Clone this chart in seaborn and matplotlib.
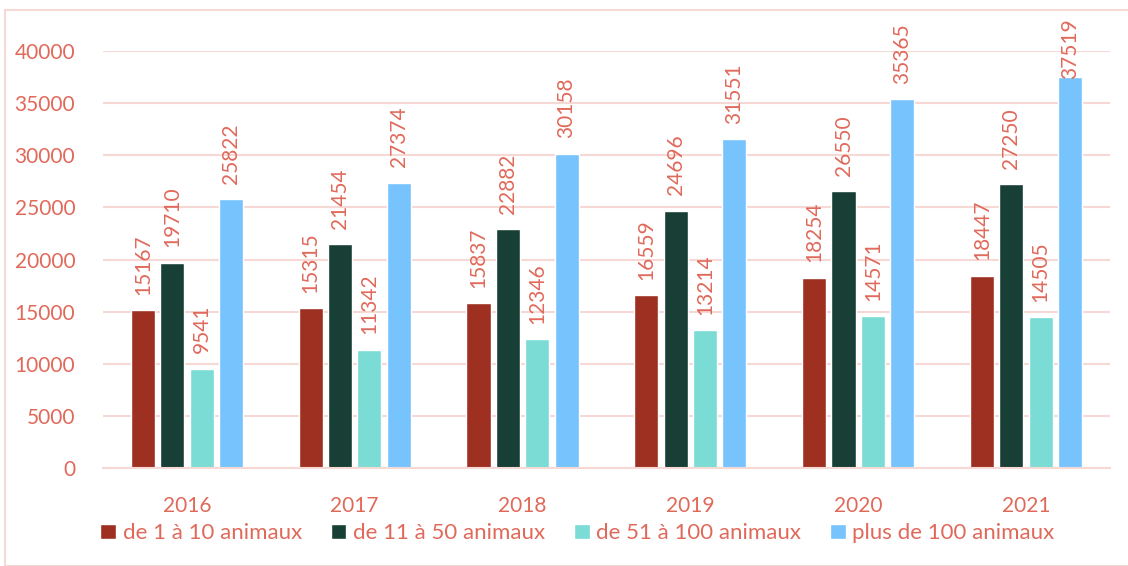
import matplotlib
matplotlib.use("Agg")
import matplotlib.pyplot as plt
import matplotlib.patches as patches
import seaborn as sns
import pandas as pd

# data
years = ["2016", "2017", "2018", "2019", "2020", "2021"]
categories = ["de 1 à 10 animaux", "de 11 à 50 animaux", "de 51 à 100 animaux", "plus de 100 animaux"]
small = [15167, 15315, 15837, 16559, 18254, 18447]
medium = [19710, 21454, 22882, 24696, 26550, 27250]
large = [9541, 11342, 12346, 13214, 14571, 14505]
very_large = [25822, 27374, 30158, 31551, 35365, 37519]

colors = ["#9E3022", "#173F35", "#7BDCD5", "#76C3FD"]
text_color = "#E0695A"
grid_color = "#F6D9D4"

rows = []
for cat, vals in zip(categories, [small, medium, large, very_large]):
    for y, v in zip(years, vals):
        rows.append({"Année": y, "Catégorie": cat, "Exploitations": v})
df = pd.DataFrame(rows)

sns.set_style("white")
plt.rcParams["font.family"] = ["Lato", "DejaVu Sans"]

fig = plt.figure(figsize=(11.28, 5.66), dpi=100)
ax = fig.add_axes([0.0913, 0.1731, 0.8927, 0.7368])

sns.barplot(data=df, x="Année", y="Exploitations", hue="Catégorie",
            palette=colors, saturation=1, width=0.7, gap=0.18, ax=ax, legend=True)

ax.set_ylim(0, 40000)
ax.set_yticks(range(0, 40001, 5000))
ax.yaxis.grid(True, color=grid_color, linewidth=1.5)
ax.set_axisbelow(True)
ax.set_xlabel("")
ax.set_ylabel("")
for s in ["left", "right", "top"]:
    ax.spines[s].set_visible(False)
ax.spines["bottom"].set_color(grid_color)
ax.spines["bottom"].set_linewidth(1.5)
ax.tick_params(axis="both", length=0, labelsize=15, colors=text_color)
ax.tick_params(axis="x", pad=20)
ax.tick_params(axis="y", pad=20)

# value labels, kept inside the chart area like the original
fig.canvas.draw()
top_px = fig.bbox.height - 18
for container in ax.containers:
    for bar in container:
        h = bar.get_height()
        x = bar.get_x() + bar.get_width() / 2
        t = ax.annotate(f"{int(round(h))}", xy=(x, h), xytext=(0, 11),
                        textcoords="offset points", rotation=90,
                        ha="center", va="bottom", fontsize=15,
                        color=text_color, annotation_clip=False)
        bb = t.get_window_extent(renderer=fig.canvas.get_renderer())
        if bb.y1 > top_px:
            t.xyann = (0, 11 - (bb.y1 - top_px) * 72 / fig.dpi)

handles, labels = ax.get_legend_handles_labels()
ax.get_legend().remove()
fig.legend(handles, labels, loc="center", bbox_to_anchor=(0.512, 0.058), ncol=4,
           frameon=False, fontsize=16, labelcolor=text_color,
           handlelength=0.7, handleheight=0.7, handletextpad=0.3,
           columnspacing=1.3)

# light border around the chart
fig.patches.append(patches.Rectangle((5 / 1128, 0), 1.0, 1 - 10 / 566,
                                     transform=fig.transFigure, fill=False,
                                     edgecolor=grid_color, linewidth=1.5))

fig.savefig("out.png", dpi=100)
